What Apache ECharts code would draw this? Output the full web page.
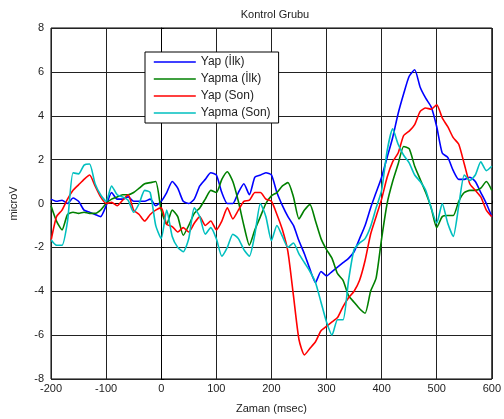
<!DOCTYPE html>
<html>
<head>
<meta charset="utf-8">
<script src="https://cdn.jsdelivr.net/npm/echarts@6/dist/echarts.min.js"></script>
<style>
  html, body { margin: 0; padding: 0; background: #fff; }
  #chart { width: 504px; height: 419px; }
</style>
</head>
<body>
<div id="chart"></div>
<script>
// zaman (msec)
var times = [-200, -190, -180, -170, -160, -150, -140, -130, -120, -110,
  -100, -90, -80, -70, -60, -50, -40, -30, -20, -10,
  0, 10, 20, 30, 40, 50, 60, 70, 80, 90,
  100, 110, 120, 130, 140, 150, 160, 170, 180, 190,
  200, 210, 220, 230, 240, 250, 260, 270, 280, 290,
  300, 310, 320, 330, 340, 350, 360, 370, 380, 390,
  400, 410, 420, 430, 440, 450, 460, 470, 480, 490,
  500, 510, 520, 530, 540, 550, 560, 570, 580, 590, 600]

var yapIlk = [0.2, 0.1, 0.15, 0.0, 0.25, 0.1, -0.3, -0.4, -0.5, -0.6,
  -0.1, 0.5, 0.2, 0.2, 0.3, 0.1, 0.1, 0.1, 0.2, -0.1,
  0.1, 0.5, 1.0, 0.7, 0.1, 0.0, 0.2, 0.8, 1.1, 1.4,
  1.3, 0.5, 0.0, 0.0, 0.5, 0.9, 0.4, 1.2, 1.3, 1.4,
  1.3, 0.5, -0.1, -0.6, -1.0, -1.7, -2.3, -3.0, -3.6, -3.1,
  -3.3, -3.1, -2.9, -2.7, -2.5, -2.2, -1.6, -1.0, -0.2, 0.5,
  1.2, 2.1, 3.0, 4.1, 5.0, 5.8, 6.1, 5.3, 4.8, 4.4,
  3.5, 2.3, 2.1, 1.5, 1.1, 1.1, 1.2, 1.0, 0.5, 0.0, -0.6]

var yapmaIlk = [-0.1, -0.8, -1.2, -0.5, -0.4, -0.45, -0.4, -0.45, -0.45, -0.3,
  0.0, 0.2, 0.3, 0.4, 0.4, 0.5, 0.7, 0.9, 0.95, 1.0,
  -0.3, -0.95, -0.3, -0.6, -1.45, -1.0, -0.45, -0.2, 0.2, 0.6,
  0.5, 1.1, 1.45, 1.0, 0.1, -1.0, -1.9, -1.2, -0.6, 0.0,
  0.35, 0.5, 0.8, 0.95, 0.3, -0.7, -0.3, -0.05, -0.8, -1.6,
  -2.1, -2.5, -3.2, -3.5, -4.2, -4.5, -4.8, -5.0, -4.0, -3.4,
  -1.6, 0.0, 1.0, 1.8, 2.6, 2.5, 1.7, 1.1, 0.5, -0.2,
  -1.1, -0.6, -0.55, -0.55, 0.1, 0.5, 0.6, 0.6, 0.7, 1.0, 0.6]

var yapSon = [-1.7, -0.6, -0.3, 0.2, 0.6, 0.85, 1.1, 1.3, 0.8, 0.3,
  0.0, 0.05, -0.1, 0.15, 0.4, -0.3, -0.5, -0.8, -0.5, -0.3,
  -0.2, -0.95, -1.05, -1.3, -1.1, -1.3, -0.9, -0.6, -1.0, -0.8,
  -1.2, -0.8, -0.2, -0.7, -0.3, 0.1, 0.15, 0.5, 0.5, 0.2,
  0.1, -0.5, -1.2, -2.2, -4.2, -6.2, -6.9, -6.6, -6.3, -5.8,
  -5.6, -5.4, -5.2, -4.7, -4.3, -4.0, -3.5, -2.6, -1.4, -0.6,
  0.2, 1.2, 1.9, 2.3, 3.1, 3.3, 3.6, 4.2, 4.35, 4.3,
  4.5, 3.9, 3.5, 3.0, 2.7, 1.8, 0.9, 0.6, 0.3, -0.3, -0.6]

var yapmaSon = [-1.65, -1.9, -1.9, -0.8, 1.4, 1.35, 1.75, 1.8, 0.9, 0.4,
  0.1, 0.8, 0.4, 0.3, 0.15, -0.4, 0.0, 0.6, 0.5, -1.0,
  -1.6, -0.3, -1.5, -2.0, -2.2, -1.6, -0.2, -0.6, -1.4, -1.1,
  -1.6, -2.4, -2.0, -1.4, -1.6, -2.1, -2.4, -1.4, 0.0, -0.6,
  -1.7, -1.0, -1.5, -2.0, -1.8, -2.3, -2.7, -3.1, -3.6, -4.5,
  -5.4, -6.0, -5.3, -5.3, -3.5, -2.1, -1.8, -1.6, -1.05, -0.2,
  0.6, 2.4, 3.4, 2.7, 2.2, 1.85, 1.3, 1.0, 0.6, -0.2,
  -0.9, 0.0, -0.9, -1.5, -0.1, 1.3, 1.05, 1.3, 1.9, 1.5, 1.7]

var seriesNames = ['Yap (İlk)', 'Yapma (İlk)', 'Yap (Son)', 'Yapma (Son)']
var seriesColors = ['#0000ff', '#008000', '#ff0000', '#00bfbf']
var seriesValues = [yapIlk, yapmaIlk, yapSon, yapmaSon]

function pairs(values) {
  return times.map(function (t, i) { return [t, values[i]] })
}

var font = 'Liberation Sans, Arial, sans-serif'
var chart = echarts.init(document.getElementById('chart'))

chart.setOption({
  animation: false,
  color: seriesColors,
  title: {
    text: 'Kontrol Grubu',
    left: 270,
    textAlign: 'center',
    top: 4,
    textStyle: { fontSize: 11, fontWeight: 'normal', color: '#222', fontFamily: font }
  },
  legend: {
    orient: 'vertical',
    left: 145,
    top: 52,
    data: seriesNames,
    itemWidth: 42,
    itemHeight: 14,
    itemGap: 5,
    itemTextGap: 5,
    padding: [4, 8, 4, 8],
    backgroundColor: '#fff',
    borderColor: '#000',
    borderWidth: 1,
    selectedMode: false,
    itemStyle: { opacity: 0 },
    lineStyle: { width: 1.6 },
    textStyle: { fontSize: 12, color: '#222', fontFamily: font }
  },
  grid: {
    left: 48,
    right: 10,
    top: 28,
    bottom: 40,
    show: true,
    borderColor: '#000',
    borderWidth: 1
  },
  xAxis: {
    type: 'value',
    min: -200,
    max: 600,
    interval: 100,
    name: 'Zaman (msec)',
    nameLocation: 'middle',
    nameGap: 24,
    nameTextStyle: { fontSize: 11, color: '#222', fontFamily: font },
    axisLine: { lineStyle: { color: '#000' } },
    axisTick: { inside: true, length: 3, lineStyle: { color: '#000' } },
    axisLabel: { fontSize: 11, color: '#222', margin: 4, fontFamily: font },
    splitLine: { show: true, lineStyle: { color: '#222', width: 1 } }
  },
  yAxis: {
    type: 'value',
    min: -8,
    max: 8,
    interval: 2,
    name: 'microV',
    nameLocation: 'middle',
    nameGap: 32,
    nameTextStyle: { fontSize: 11, color: '#222', fontFamily: font },
    axisLine: { show: true, lineStyle: { color: '#000' } },
    axisTick: { show: true, inside: true, length: 3, lineStyle: { color: '#000' } },
    axisLabel: { fontSize: 11, color: '#222', margin: 7, fontFamily: font },
    splitLine: { show: true, lineStyle: { color: '#222', width: 1 } }
  },
  series: seriesNames.map(function (name, i) {
    return {
      name: name,
      type: 'line',
      data: pairs(seriesValues[i]),
      symbol: 'none',
      smooth: 0.2,
      lineStyle: { width: 1.6, color: seriesColors[i] },
      z: 3 + i
    }
  })
})
</script>
</body>
</html>
